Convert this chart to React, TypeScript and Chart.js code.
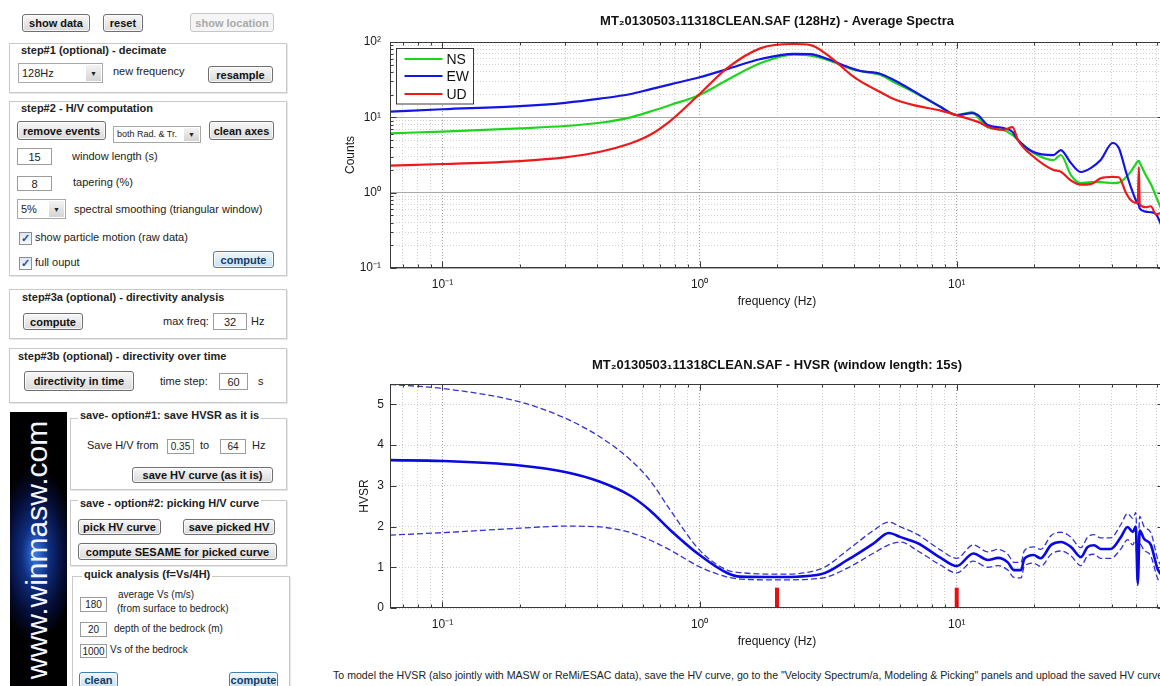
import React, { useEffect, useRef } from 'react';
import { Chart, registerables } from 'chart.js';

Chart.register(...registerables);

const FONT = "'Liberation Sans', Arial, Helvetica, sans-serif";

// ---------------- Average spectra (top chart) ----------------
const spectraFreqs = [
  0.0625, 0.1, 0.2, 0.3, 0.41, 0.54, 0.64, 0.77, 1, 1.28, 1.73, 2.32, 2.7, 3.15, 3.87, 4.23,
  5.06, 5.69, 6.8, 8.67, 10, 11.5, 12.1, 13.2, 15.2, 16.5, 17.3, 19.9, 23.8, 25.4, 27.8, 30.4,
  33.2, 36.3, 40.4, 42.7, 45.5, 47.5, 49.7, 50.6, 51.1, 51.5, 54.4, 56.9, 59.5, 64,
];
const nsCounts = [
  6.14, 6.46, 7.15, 7.67, 8.47, 10.0, 11.9, 14.6, 19.8, 31.3, 52.6, 68, 66, 57.7, 44, 41,
  36.5, 29.4, 21.7, 13.7, 10.7, 11.7, 10.0, 7.4, 6.8, 5.8, 5.0, 3.36, 2.71, 3.16, 1.71, 1.34,
  1.38, 1.38, 1.34, 1.36, 1.6, 1.9, 2.4, 2.6, 2.65, 2.5, 1.7, 1.3, 0.9, 0.5,
];
const ewCounts = [
  11.9, 12.8, 14.1, 15.6, 17.7, 20.4, 23.5, 27.4, 34, 43.7, 59.4, 69.4, 69, 59.4, 45.2, 41.2,
  37.6, 31.3, 22.3, 13.7, 10.7, 11.4, 10.7, 7.9, 7.2, 6.4, 5.0, 3.46, 3.15, 3.68, 2.47, 1.88,
  2.12, 2.71, 4.56, 3.91, 1.9, 1.2, 0.8, 0.72, 0.68, 0.62, 0.56, 0.55, 0.52, 0.3,
];
const udCounts = [
  2.28, 2.4, 2.63, 2.94, 3.49, 4.52, 5.82, 9.0, 20.4, 45, 83, 94, 91, 67, 37, 30,
  21.5, 17.5, 14.5, 12.3, 10.7, 9.2, 8.7, 7.5, 6.8, 7.4, 5.0, 3.0, 2.0, 1.9, 1.45, 1.28,
  1.3, 1.55, 1.62, 1.6, 1.0, 0.8, 0.73, 0.73, 2.19, 0.7, 0.64, 0.66, 0.52, 0.55,
];

const freqTickValues = [0.1, 1, 10];
const freqTickLabels = ['10⁻¹', '10⁰', '10¹'];
const countTickValues = [0.1, 1, 10, 100];
const countTickLabels = ['10⁻¹', '10⁰', '10¹', '10²'];

// ---------------- HVSR (bottom chart) ----------------
const hvsrFreqs = [
  0.0625, 0.1, 0.2, 0.3, 0.41, 0.54, 0.64, 0.77, 1.0, 1.28, 1.44, 2.0, 2.96, 3.76, 4.76, 5.44,
  6.05, 7.06, 8.67, 10, 11.6, 13.2, 14.5, 15.8, 16.7, 17.8, 18.3, 19.9, 21.2, 23.3, 25.4, 27.8,
  30.4, 32.3, 34.2, 36.3, 39.7, 43.5, 46.2, 48.4, 49.7, 50.6, 51.5, 53.5, 56.9, 60.5, 64,
];
const hvsrMean = [
  3.63, 3.61, 3.5, 3.34, 3.1, 2.75, 2.4, 1.91, 1.3, 0.86, 0.77, 0.76, 0.83, 1.18, 1.59, 1.84,
  1.74, 1.59, 1.23, 1.03, 1.34, 1.18, 1.23, 1.12, 0.93, 0.93, 1.2, 1.3, 1.22, 1.55, 1.62, 1.5,
  1.25, 1.5, 1.54, 1.45, 1.45, 1.74, 1.99, 1.87, 2.0, 0.61, 1.9, 1.7, 1.55, 0.95, 0.75,
];
const hvsrUpper = [
  5.49, 5.39, 5.06, 4.66, 4.2, 3.63, 3.14, 2.4, 1.42, 0.93, 0.87, 0.83, 0.96, 1.42, 1.91, 2.11,
  1.99, 1.8, 1.42, 1.22, 1.55, 1.38, 1.44, 1.32, 1.12, 1.12, 1.4, 1.5, 1.44, 1.78, 1.86, 1.74,
  1.48, 1.74, 1.8, 1.72, 1.72, 2.05, 2.32, 2.2, 2.35, 1.2, 2.25, 2.0, 1.85, 1.2, 0.95,
];
const hvsrLower = [
  1.79, 1.85, 1.96, 2.01, 1.99, 1.85, 1.67, 1.42, 1.01, 0.76, 0.71, 0.69, 0.73, 0.98, 1.35, 1.55,
  1.62, 1.4, 1.05, 0.86, 1.15, 1.0, 1.04, 0.93, 0.75, 0.74, 1.02, 1.1, 1.02, 1.32, 1.4, 1.28,
  1.04, 1.28, 1.32, 1.22, 1.22, 1.45, 1.68, 1.55, 1.7, 0.55, 1.58, 1.42, 1.28, 0.72, 0.55,
];
const hvsrTickValues = [0, 1, 2, 3, 4, 5];
const peakFreqs = [2, 10];
const peakMarkHeight = 0.5;

const FREQ_MIN = 0.0625;
const FREQ_MAX = 64;

// ---------------- helpers ----------------
const isDecade = (v: number) =>
  v > 0 && Math.abs(Math.log10(v) - Math.round(Math.log10(v))) < 1e-6;

function logGridValues(min: number, max: number) {
  const out: number[] = [];
  for (let e = Math.floor(Math.log10(min)); e <= Math.ceil(Math.log10(max)); e++) {
    for (let m = 1; m <= 9; m++) {
      const v = parseFloat((m * Math.pow(10, e)).toPrecision(3));
      if (v >= min - 1e-9 && v <= max + 1e-9) out.push(v);
    }
  }
  return out;
}

function labelFor(values: number[], labels: string[]) {
  return (value: any) => {
    const n = Number(value);
    const i = values.findIndex((v) => Math.abs(v - n) <= Math.abs(v) * 1e-6 + 1e-12);
    return i >= 0 ? labels[i] : '';
  };
}

const matlabAxesPlugin = {
  id: 'matlabAxes',
  afterDatasetsDraw(chart: any, _args: any, opts: any) {
    const { ctx, chartArea: a } = chart;
    const xs = chart.scales.x;
    const ys = chart.scales.y;
    const L = Math.round(a.left) + 0.5;
    const R = Math.round(a.right) - 0.5;
    const T = Math.round(a.top) + 0.5;
    const B = Math.round(a.bottom) - 0.5;
    ctx.save();
    ctx.strokeStyle = '#3a3a3a';
    ctx.lineWidth = 1;
    ctx.beginPath();
    xs.ticks.forEach((t: any) => {
      const p = Math.round(xs.getPixelForValue(t.value)) + 0.5;
      const len = isDecade(t.value) ? 6 : 3;
      ctx.moveTo(p, B);
      ctx.lineTo(p, B - len);
      ctx.moveTo(p, T);
      ctx.lineTo(p, T + len);
    });
    ys.ticks.forEach((t: any) => {
      const p = Math.round(ys.getPixelForValue(t.value)) + 0.5;
      const len = opts && opts.logY ? (isDecade(t.value) ? 6 : 3) : 6;
      ctx.moveTo(L, p);
      ctx.lineTo(L + len, p);
      ctx.moveTo(R, p);
      ctx.lineTo(R - len, p);
    });
    ctx.stroke();
    ctx.strokeRect(L, T, R - L, B - T);
    ctx.restore();
  },
};

const insetLegendPlugin = {
  id: 'insetLegend',
  afterDatasetsDraw(chart: any) {
    const { ctx, chartArea: a } = chart;
    const items = chart.data.datasets.filter((d: any) => d.label);
    const x0 = Math.round(a.left) + 6.5;
    const y0 = Math.round(a.top) + 6.5;
    const w = 77;
    const rowH = 17.5;
    const h = items.length * rowH + 3;
    ctx.save();
    ctx.fillStyle = '#ffffff';
    ctx.fillRect(x0, y0, w, h);
    ctx.strokeStyle = '#3a3a3a';
    ctx.lineWidth = 1;
    ctx.strokeRect(x0, y0, w, h);
    ctx.font = `14px ${FONT}`;
    ctx.textBaseline = 'middle';
    items.forEach((d: any, i: number) => {
      const cy = Math.round(y0 + 10 + i * rowH);
      ctx.strokeStyle = d.borderColor;
      ctx.lineWidth = 2;
      ctx.beginPath();
      ctx.moveTo(x0 + 8, cy);
      ctx.lineTo(x0 + 46, cy);
      ctx.stroke();
      ctx.fillStyle = '#111';
      ctx.fillText(d.label, x0 + 50, cy + 1);
    });
    ctx.restore();
  },
};

function freqAxis(height: number, titleBottom: number) {
  return {
    type: 'logarithmic',
    min: FREQ_MIN,
    max: FREQ_MAX,
    afterBuildTicks: (s: any) => {
      s.ticks = logGridValues(FREQ_MIN, FREQ_MAX).map((v) => ({ value: v }));
    },
    afterFit: (s: any) => {
      s.height = height;
    },
    ticks: {
      autoSkip: false,
      maxRotation: 0,
      minRotation: 0,
      padding: 9,
      color: '#1a1a1a',
      font: { family: FONT, size: 12 },
      callback: labelFor(freqTickValues, freqTickLabels),
    },
    grid: {
      drawTicks: false,
      lineWidth: 1,
      color: (c: any) => (c.tick && isDecade(c.tick.value) ? '#a0a0a0' : '#cdcdcd'),
    },
    border: { display: false, dash: [1, 2] },
    title: {
      display: true,
      text: 'frequency (Hz)',
      color: '#1a1a1a',
      font: { family: FONT, size: 12 },
      padding: { top: 0, bottom: titleBottom },
    },
  };
}

function SpectraChart() {
  const ref = useRef<HTMLCanvasElement>(null);
  useEffect(() => {
    const mk = (vals: number[]) => spectraFreqs.map((f, i) => ({ x: f, y: vals[i] }));
    const chart = new Chart(ref.current as HTMLCanvasElement, {
      type: 'line',
      data: {
        datasets: [
          { label: 'NS', data: mk(nsCounts), borderColor: '#1fd41f', borderWidth: 2.2, order: 3 },
          { label: 'EW', data: mk(ewCounts), borderColor: '#1414e6', borderWidth: 2.2, order: 2 },
          { label: 'UD', data: mk(udCounts), borderColor: '#ec1a1a', borderWidth: 2.2, order: 1 },
        ],
      } as any,
      options: {
        animation: false,
        responsive: false,
        devicePixelRatio: 1,
        events: [],
        elements: {
          point: { radius: 0 },
          line: { cubicInterpolationMode: 'monotone', borderJoinStyle: 'round' },
        },
        layout: { padding: { left: 0, right: 10, top: 0, bottom: 0 } },
        plugins: {
          legend: { display: false },
          tooltip: { enabled: false },
          title: {
            display: true,
            fullSize: false,
            text: 'MT₂0130503₁11318CLEAN.SAF (128Hz) - Average Spectra',
            color: '#111',
            font: { family: FONT, size: 13, weight: 'bold' },
            padding: { top: 13.9, bottom: 12.5 },
          },
          matlabAxes: { logY: true },
        },
        scales: {
          x: freqAxis(42, 1.1),
          y: {
            type: 'logarithmic',
            min: 0.1,
            max: 100,
            afterBuildTicks: (s: any) => {
              s.ticks = logGridValues(0.1, 100).map((v) => ({ value: v }));
            },
            afterFit: (s: any) => {
              s.width = 60;
            },
            ticks: {
              autoSkip: false,
              padding: 9,
              color: '#1a1a1a',
              font: { family: FONT, size: 12 },
              callback: labelFor(countTickValues, countTickLabels),
            },
            grid: {
              drawTicks: false,
              color: (c: any) => (c.tick && isDecade(c.tick.value) ? '#aaaaaa' : '#d0d0d0'),
            },
            border: {
              display: false,
              dash: (c: any) => (c.tick && isDecade(c.tick.value) ? [] : [1, 2]),
            },
            title: {
              display: true,
              text: 'Counts',
              color: '#1a1a1a',
              font: { family: FONT, size: 12 },
              padding: { top: 13.5, bottom: 0 },
            },
          },
        },
      } as any,
      plugins: [matlabAxesPlugin, insetLegendPlugin] as any,
    });
    return () => chart.destroy();
  }, []);
  return (
    <canvas
      ref={ref}
      width={844}
      height={310}
      style={{ position: 'absolute', left: 330, top: 0 }}
    />
  );
}

function HvsrChart() {
  const ref = useRef<HTMLCanvasElement>(null);
  useEffect(() => {
    const mk = (vals: number[]) => hvsrFreqs.map((f, i) => ({ x: f, y: vals[i] }));
    const dashed = { borderColor: '#3232d4', borderWidth: 1.3, borderDash: [6, 3], order: 3 };
    const chart = new Chart(ref.current as HTMLCanvasElement, {
      type: 'line',
      data: {
        datasets: [
          { data: mk(hvsrUpper), ...dashed },
          { data: mk(hvsrLower), ...dashed },
          { data: mk(hvsrMean), borderColor: '#0a0ae0', borderWidth: 2.6, order: 2 },
          ...peakFreqs.map((f) => ({
            data: [
              { x: f, y: 0 },
              { x: f, y: peakMarkHeight },
            ],
            borderColor: '#e81010',
            borderWidth: 4,
            tension: 0,
            cubicInterpolationMode: 'default',
            borderCapStyle: 'butt',
            order: 1,
          })),
        ],
      } as any,
      options: {
        animation: false,
        responsive: false,
        devicePixelRatio: 1,
        events: [],
        elements: {
          point: { radius: 0 },
          line: { cubicInterpolationMode: 'monotone', borderJoinStyle: 'round' },
        },
        layout: { padding: { left: 0, right: 10, top: 0, bottom: 0 } },
        plugins: {
          legend: { display: false },
          tooltip: { enabled: false },
          title: {
            display: true,
            fullSize: false,
            text: 'MT₂0130503₁11318CLEAN.SAF - HVSR (window length: 15s)',
            color: '#111',
            font: { family: FONT, size: 13, weight: 'bold' },
            padding: { top: 17.2, bottom: 11.2 },
          },
          matlabAxes: { logY: false },
        },
        scales: {
          x: freqAxis(48, 7.1),
          y: {
            type: 'linear',
            min: 0,
            max: 5.5,
            afterBuildTicks: (s: any) => {
              s.ticks = hvsrTickValues.map((v) => ({ value: v }));
            },
            afterFit: (s: any) => {
              s.width = 60;
            },
            ticks: {
              autoSkip: false,
              padding: 6,
              color: '#1a1a1a',
              font: { family: FONT, size: 12 },
              callback: (v: any) => String(v),
            },
            grid: { drawTicks: false, color: '#cdcdcd' },
            border: { display: false, dash: [1, 2] },
            title: {
              display: true,
              text: 'HVSR',
              color: '#1a1a1a',
              font: { family: FONT, size: 12 },
              padding: { top: 27.8, bottom: 0 },
            },
          },
        },
      } as any,
      plugins: [matlabAxesPlugin] as any,
    });
    return () => chart.destroy();
  }, []);
  return (
    <canvas
      ref={ref}
      width={844}
      height={316}
      style={{ position: 'absolute', left: 330, top: 340 }}
    />
  );
}

// ---------------- GUI widgets ----------------
const pos = (l: number, t: number, w: number, h: number): React.CSSProperties => ({
  position: 'absolute',
  left: l,
  top: t,
  width: w,
  height: h,
  boxSizing: 'border-box',
});

function Button(props: { l: number; t: number; w: number; h: number; label: string; kind?: string }) {
  const { l, t, w, h, label, kind = 'normal' } = props;
  const looks: Record<string, React.CSSProperties> = {
    normal: { background: 'linear-gradient(#f7f7f7,#dadada)', border: '1px solid #6f6f6f', color: '#111' },
    focus: { background: 'linear-gradient(#eef7fd,#c2e2f7)', border: '1px solid #3c7fb1', color: '#173a63' },
    disabled: { background: '#f5f5f5', border: '1px solid #c6c6c6', color: '#a9a9a9' },
  };
  return (
    <div
      style={{
        ...pos(l, t, w, h),
        ...looks[kind],
        borderRadius: 3,
        font: `bold 11px ${FONT}`,
        display: 'flex',
        alignItems: 'center',
        justifyContent: 'center',
        whiteSpace: 'nowrap',
        boxShadow: kind === 'disabled' ? 'none' : 'inset 0 0 0 1px rgba(255,255,255,0.75)',
      }}
    >
      {label}
    </div>
  );
}

function Label(props: { x: number; y: number; text: string; bold?: boolean; size?: number; bg?: string }) {
  const { x, y, text, bold, size = 11, bg } = props;
  return (
    <div
      style={{
        position: 'absolute',
        left: bg ? x - 2 : x,
        top: y - 7,
        height: 14,
        lineHeight: '14px',
        font: `${bold ? 'bold ' : ''}${size}px ${FONT}`,
        color: '#222',
        whiteSpace: 'nowrap',
        background: bg,
        padding: bg ? '0 2px' : 0,
      }}
    >
      {text}
    </div>
  );
}

function Field(props: { l: number; t: number; w: number; h: number; value: string; size?: number }) {
  const { l, t, w, h, value, size = 11 } = props;
  return (
    <div
      style={{
        ...pos(l, t, w, h),
        border: '1px solid #9c9c9c',
        background: '#fff',
        font: `${size}px ${FONT}`,
        color: '#222',
        display: 'flex',
        alignItems: 'center',
        justifyContent: 'center',
      }}
    >
      {value}
    </div>
  );
}

function Dropdown(props: { l: number; t: number; w: number; h: number; value: string; size?: number }) {
  const { l, t, w, h, value, size = 11 } = props;
  return (
    <div style={{ ...pos(l, t, w, h), border: '1px solid #a8a8a8', background: '#fff', font: `${size}px ${FONT}`, color: '#222' }}>
      <span style={{ position: 'absolute', left: 3, top: 0, lineHeight: `${h - 2}px`, whiteSpace: 'nowrap' }}>{value}</span>
      <span
        style={{
          position: 'absolute',
          right: 1,
          top: 1,
          width: 15,
          height: h - 4,
          background: 'linear-gradient(#f3f3f3,#d4d4d4)',
          fontSize: 7,
          display: 'flex',
          alignItems: 'center',
          justifyContent: 'center',
          color: '#222',
        }}
      >
        ▼
      </span>
    </div>
  );
}

function Check(props: { l: number; t: number }) {
  return (
    <div
      style={{
        ...pos(props.l, props.t, 13, 13),
        border: '1px solid #8f8f8f',
        background: 'linear-gradient(#dbe6f4,#f8fbff)',
        color: '#2b4f9e',
        font: `bold 11px ${FONT}`,
        lineHeight: '11px',
        textAlign: 'center',
      }}
    >
      ✓
    </div>
  );
}

function Panel(props: { l: number; t: number; w: number; h: number }) {
  return <div style={{ ...pos(props.l, props.t, props.w, props.h), border: '1px solid #c9c9c9', boxShadow: '1px 1px 0 #e8e8e8' }} />;
}

function Banner() {
  return (
    <div
      style={{
        ...pos(10, 412, 57, 274),
        overflow: 'hidden',
        background:
          'radial-gradient(ellipse 70% 32% at 45% 52%, rgba(60,130,240,0.95) 0%, rgba(20,60,170,0.75) 35%, rgba(5,15,60,0.9) 70%, #000 100%), #000',
      }}
    >
      <div
        style={{
          position: 'absolute',
          left: 26.5,
          top: 138,
          transform: 'translate(-50%,-50%) rotate(-90deg)',
          font: `30px ${FONT}`,
          lineHeight: '30px',
          color: '#f4f6ff',
          whiteSpace: 'nowrap',
        }}
      >
        www.winmasw.com
      </div>
    </div>
  );
}

export default function App() {
  return (
    <div
      style={{
        position: 'absolute',
        left: 0,
        top: 0,
        width: 1160,
        height: 686,
        overflow: 'hidden',
        background: '#fff',
        fontFamily: FONT,
      }}
    >
      <Button l={22} t={14} w={68} h={18} label="show data" />
      <Button l={103} t={14} w={40} h={18} label="reset" />
      <Button l={190} t={13} w={84} h={19} label="show location" kind="disabled" />

      <Panel l={9} t={43} w={278} h={50} />
      <Label x={21} y={51} text="step#1 (optional) - decimate" bold />
      <Dropdown l={18} t={63} w={85} h={20} value="128Hz" />
      <Label x={113} y={72} text="new frequency" />
      <Button l={208} t={66} w={65} h={17} label="resample" />

      <Panel l={9} t={101} w={278} h={175} />
      <Label x={21} y={109} text="step#2 - H/V computation" bold />
      <Button l={17} t={121} w={89} h={19} label="remove events" />
      <Dropdown l={113} t={126} w={88} h={17} value="both Rad. & Tr." size={9} />
      <Button l={209} t={121} w={65} h={19} label="clean axes" />
      <Field l={17} t={148} w={35} h={17} value="15" />
      <Label x={72} y={157} text="window length (s)" />
      <Field l={17} t={176} w={35} h={15} value="8" />
      <Label x={73} y={183} text="tapering (%)" />
      <Dropdown l={17} t={199} w={49} h={20} value="5%" />
      <Label x={74} y={210} text="spectral smoothing (triangular window)" />
      <Check l={19} t={232} />
      <Label x={35} y={238} text="show particle motion (raw data)" />
      <Check l={19} t={257} />
      <Label x={35} y={263} text="full ouput" />
      <Button l={213} t={251} w={61} h={17} label="compute" kind="focus" />

      <Panel l={9} t={289} w={278} h={50} />
      <Label x={22} y={298} text="step#3a (optional) - directivity analysis" bold />
      <Button l={23} t={313} w={60} h={17} label="compute" />
      <Label x={163} y={322} text="max freq:" />
      <Field l={213} t={313} w={34} h={17} value="32" />
      <Label x={251} y={322} text="Hz" />

      <Panel l={9} t={348} w={278} h={55} />
      <Label x={18} y={357} text="step#3b (optional) - directivity over time" bold />
      <Button l={24} t={371} w={110} h={20} label="directivity in time" />
      <Label x={160} y={382} text="time step:" />
      <Field l={219} t={373} w={29} h={17} value="60" />
      <Label x={258} y={382} text="s" />

      <Banner />

      <Panel l={70} t={418} w={217} h={72} />
      <Label x={80} y={416} text="save- option#1: save HVSR as it is" bold bg="#fff" />
      <Label x={87} y={446} text="Save H/V from" />
      <Field l={167} t={439} w={27} h={15} value="0.35" size={10} />
      <Label x={200} y={446} text="to" />
      <Field l={220} t={439} w={26} h={15} value="64" size={10} />
      <Label x={252} y={446} text="Hz" />
      <Button l={132} t={467} w={141} h={16} label="save HV curve (as it is)" />

      <Panel l={70} t={500} w={217} h={66} />
      <Label x={80} y={504} text="save - option#2: picking H/V curve" bold bg="#fff" />
      <Button l={78} t={519} w={83} h={16} label="pick HV curve" />
      <Button l={183} t={519} w={92} h={16} label="save picked HV" />
      <Button l={78} t={543} w={199} h={17} label="compute SESAME for picked curve" />

      <Panel l={72} t={576} w={218} h={115} />
      <Label x={84} y={575} text="quick analysis (f=Vs/4H)" bold bg="#fff" />
      <Field l={80} t={597} w={27} h={15} value="180" size={10} />
      <Label x={118} y={596} text="average Vs (m/s)" size={10} />
      <Label x={117} y={610} text="(from surface to bedrock)" size={10} />
      <Field l={80} t={622} w={27} h={15} value="20" size={10} />
      <Label x={114} y={630} text="depth of the bedrock (m)" size={10} />
      <Field l={80} t={644} w={27} h={14} value="1000" size={10} />
      <Label x={110} y={651} text="Vs of the bedrock" size={10} />
      <Button l={79} t={672} w={39} h={16} label="clean" kind="focus" />
      <Button l={229} t={672} w={49} h={16} label="compute" kind="focus" />

      <SpectraChart />
      <HvsrChart />

      <div
        style={{
          position: 'absolute',
          left: 333,
          top: 669,
          height: 14,
          lineHeight: '14px',
          font: `10.6px ${FONT}`,
          color: '#222',
          whiteSpace: 'nowrap',
        }}
      >
        To model the HVSR (also jointly with MASW or ReMi/ESAC data), save the HV curve, go to the "Velocity Spectrum/a, Modeling &amp; Picking" panels and upload the saved HV curve
      </div>
    </div>
  );
}
